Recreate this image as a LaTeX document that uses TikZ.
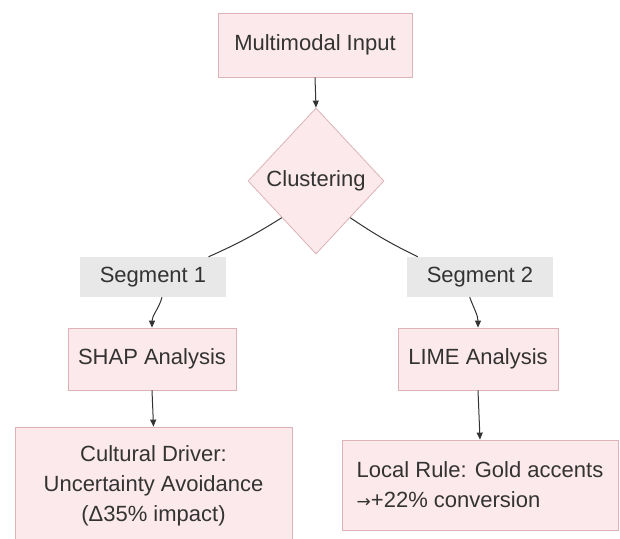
\documentclass[tikz,border=0pt]{standalone}
\usepackage{fontspec}
\setmainfont{Liberation Sans}
\usetikzlibrary{shapes.geometric,arrows.meta}
\definecolor{boxfill}{HTML}{FCE9EB}
\definecolor{boxline}{HTML}{DDB3B7}
\definecolor{segfill}{HTML}{E8E8E8}
\definecolor{txt}{HTML}{333333}
\definecolor{edge}{HTML}{333333}
\tikzset{
  procbox/.style={draw=boxline, fill=boxfill, line width=0.8pt, inner sep=0pt, text=txt,
    font=\fontsize{22}{30}\selectfont},
  decbox/.style={diamond, draw=boxline, fill=boxfill, line width=0.8pt, inner sep=0pt, text=txt,
    font=\fontsize{22}{30}\selectfont, minimum width=136pt, minimum height=146pt},
  seglabel/.style={fill=segfill, inner sep=0pt, text=txt, minimum width=146pt, minimum height=40pt,
    font=\fontsize{22}{30}\selectfont},
  conn/.style={draw=edge, line width=1pt},
  arr/.style={conn, -{Triangle[length=7pt,width=6pt]}}
}
\begin{document}
\begin{tikzpicture}[x=1pt,y=1pt]
\useasboundingbox (0,0) rectangle (620,538);
\fill[white] (0,0) rectangle (620,538);
\node[procbox, minimum width=194pt, minimum height=64pt] (inp) at (315,493) {Multimodal Input};
\node[decbox] (dia) at (316,357) {Clustering};
\node[seglabel] (seg1) at (153,261) {Segment 1};
\node[seglabel] (seg2) at (480,261) {Segment 2};
\node[procbox, minimum width=168pt, minimum height=62pt] (shap) at (152,179) {SHAP Analysis};
\node[procbox, minimum width=160pt, minimum height=62pt] (lime) at (478,179) {LIME Analysis};
\node[procbox, minimum width=277pt, minimum height=118pt, align=center] (cult) at (153.5,52)
  {Cultural Driver:\\Uncertainty Avoidance\\(Δ35\% impact)};
\node[procbox, minimum width=276pt, minimum height=90pt, align=left] (rule) at (480,53)
  {Local Rule: Gold accents\\{\fontspec{DejaVu Sans}\fontsize{17}{30}\selectfont →}+22\% conversion};
\draw[arr] (inp.south) -- (dia.north);
\draw[conn] (dia.south west) to[bend left=4] (seg1.20);
\draw[conn] (dia.south east) to[bend right=4] (seg2.162);
\draw[arr] (seg1.-66) to[out=-105,in=90] (shap.north);
\draw[arr] (seg2.-117) to[out=-70,in=90] (lime.north);
\draw[arr] (shap.south) -- (cult.north);
\draw[arr] (lime.south) -- (rule.north);
\end{tikzpicture}
\end{document}
